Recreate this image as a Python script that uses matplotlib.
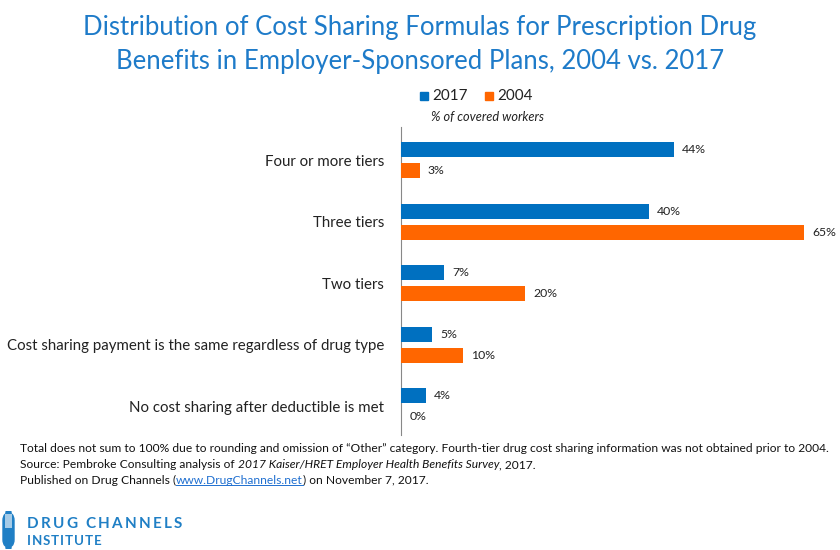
import matplotlib
matplotlib.use("Agg")
import matplotlib.pyplot as plt
from matplotlib.patches import FancyBboxPatch, Rectangle
from matplotlib.lines import Line2D

plt.rcParams['font.family'] = ['Lato', 'DejaVu Sans']

categories = ["Four or more tiers", "Three tiers", "Two tiers",
              "Cost sharing payment is the same regardless of drug type",
              "No cost sharing after deductible is met"]
vals_2017 = [44, 40, 7, 5, 4]
vals_2004 = [3, 65, 20, 10, 0]
series_names = ["2017", "2004"]
c2017 = "#0070C0"
c2004 = "#FF6600"
title_color = "#1E7BC9"

W, H = 840, 550
fig = plt.figure(figsize=(W/100, H/100), dpi=100)
fig.patch.set_facecolor("white")

def fx(px): return px / W
def fy(py): return 1 - py / H

ax_left, ax_right, ax_top, ax_bot = 401, 830, 127, 435
ax = fig.add_axes([fx(ax_left), fy(ax_bot), fx(ax_right - ax_left), (ax_bot - ax_top) / H])
ax.set_facecolor("none")
xmax = (ax_right - ax_left) / 6.2
ax.set_xlim(0, xmax)
ax.set_ylim(4.47, -0.54)

bh = 0.244
off = 0.171
ys = list(range(len(categories)))
ax.barh([y - off for y in ys], vals_2017, height=bh, color=c2017, label=series_names[0], zorder=3)
ax.barh([y + off for y in ys], vals_2004, height=bh, color=c2004, label=series_names[1], zorder=3)

for y, v in zip(ys, vals_2017):
    ax.annotate(f"{v}%", (v, y - off), xytext=(6, 0), textcoords="offset points",
                va="center", ha="left", fontsize=8.8, color="#222222")
for y, v in zip(ys, vals_2004):
    ax.annotate(f"{v}%", (v, y + off), xytext=(6, 0), textcoords="offset points",
                va="center", ha="left", fontsize=8.8, color="#222222")

for s in ["top", "right", "bottom"]:
    ax.spines[s].set_visible(False)
ax.spines["left"].set_color("#888888")
ax.spines["left"].set_linewidth(0.8)
ax.set_xticks([])
ax.set_yticks(ys)
ax.set_yticklabels(categories, fontsize=10.85, color="#222222")
ax.tick_params(axis="y", length=0, pad=12)

# Title
fig.text(0.5, fy(28), "Distribution of Cost Sharing Formulas for Prescription Drug",
         ha="center", va="center", fontsize=18.5, color=title_color)
fig.text(0.5, fy(61), "Benefits in Employer-Sponsored Plans, 2004 vs. 2017",
         ha="center", va="center", fontsize=18.5, color=title_color)

# Legend
fig.patches.append(Rectangle((fx(420), fy(100)), fx(8), 8 / H, transform=fig.transFigure, color=c2017))
fig.text(fx(432), fy(96), series_names[0], ha="left", va="center", fontsize=11, color="#222222")
fig.patches.append(Rectangle((fx(485), fy(100)), fx(8), 8 / H, transform=fig.transFigure, color=c2004))
fig.text(fx(497), fy(96), series_names[1], ha="left", va="center", fontsize=11, color="#222222")
fig.text(fx(431), fy(117), "% of covered workers", ha="left", va="center", fontsize=9.2,
         style="italic", color="#222222")

# Footnotes
fs = 8.65
fig.text(fx(20), fy(449), "Total does not sum to 100% due to rounding and omission of \u201cOther\u201d category. "
         "Fourth-tier drug cost sharing information was not obtained prior to 2004.",
         ha="left", va="center", fontsize=fs, color="#111111")
t1 = fig.text(fx(20), fy(465), "Source: Pembroke Consulting analysis of ", ha="left", va="center",
              fontsize=fs, color="#111111")
t2 = plt.annotate("2017 Kaiser/HRET Employer Health Benefits Survey", xy=(1, 0.5), xycoords=t1,
                  va="center", ha="left", fontsize=fs, style="italic", color="#111111")
t3 = plt.annotate(", 2017.", xy=(1, 0.5), xycoords=t2, va="center", ha="left", fontsize=fs, color="#111111")
p1 = fig.text(fx(20), fy(480), "Published on Drug Channels (", ha="left", va="center",
              fontsize=fs, color="#111111")
p2 = plt.annotate("www.DrugChannels.net", xy=(1, 0.5), xycoords=p1, va="center", ha="left",
                  fontsize=fs, color="#1F6FD0")
p3 = plt.annotate(") on November 7, 2017.", xy=(1, 0.5), xycoords=p2, va="center", ha="left",
                  fontsize=fs, color="#111111")

# Logo
logo_blue = "#1F7FC5"
cap = FancyBboxPatch((fx(3), fy(548)), fx(11), 36 / H, boxstyle="round,pad=0,rounding_size=0.01",
                     transform=fig.transFigure, facecolor=logo_blue, edgecolor=logo_blue, mutation_aspect=W / H)
fig.patches.append(cap)
fig.patches.append(Rectangle((fx(5), fy(528)), fx(7), 14 / H, transform=fig.transFigure,
                             facecolor="white", edgecolor="none", alpha=0.6))

renderer = fig.canvas.get_renderer()


def tracked_text(text, x, y, size, track_px, space_px):
    cx = x
    for ch in text:
        if ch == " ":
            cx += space_px
            continue
        t = fig.text(fx(cx), fy(y), ch, ha="left", va="baseline", fontsize=size,
                     fontweight="bold", color=logo_blue)
        cx += t.get_window_extent(renderer).width + track_px


tracked_text("DRUG CHANNELS", 27, 528, 11, 2.3, 5)
tracked_text("INSTITUTE", 27, 545, 9.6, 0.8, 4)

fig.canvas.draw()
bb = p2.get_window_extent()
fig.add_artist(Line2D([bb.x0 / W, bb.x1 / W], [(bb.y0 + 1) / H, (bb.y0 + 1) / H],
                      transform=fig.transFigure, color="#1F6FD0", linewidth=0.7))

fig.savefig("out.png", dpi=100)
